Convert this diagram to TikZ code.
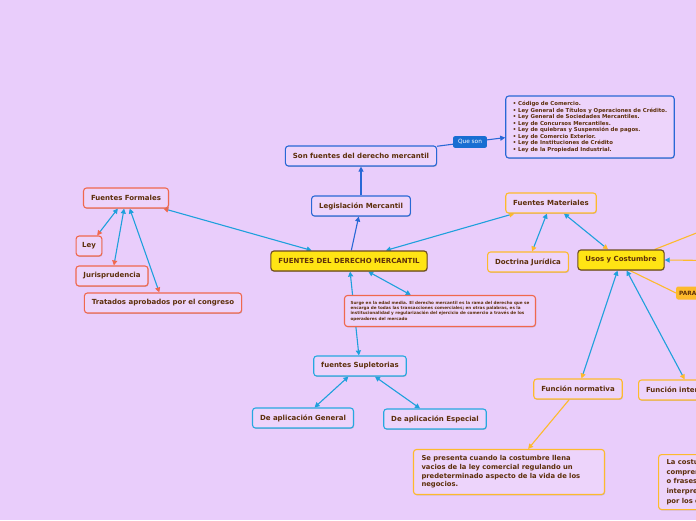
\documentclass[tikz,border=0pt]{standalone}
\usepackage{fontspec}
\setmainfont{DejaVu Sans}
\usetikzlibrary{arrows.meta,shadows,backgrounds}

\definecolor{bgpurple}{RGB}{233,205,251}
\definecolor{boxfill}{RGB}{237,212,251}
\definecolor{textbrown}{RGB}{92,46,10}
\definecolor{darkblue}{RGB}{40,104,214}
\definecolor{redor}{RGB}{240,104,78}
\definecolor{orangeb}{RGB}{253,186,44}
\definecolor{cyanb}{RGB}{38,168,224}
\definecolor{linkblue}{RGB}{30,160,220}
\definecolor{yellowf}{RGB}{255,228,20}
\definecolor{brownb}{RGB}{110,75,30}
\definecolor{tagblue}{RGB}{24,110,210}

\tikzset{
  box/.style={rounded corners=3pt, line width=1.1pt, fill=boxfill, text=textbrown,
    font=\bfseries\fontsize{7}{8.5}\selectfont, inner xsep=7.5pt, minimum height=20pt,
    drop shadow={shadow xshift=.6pt, shadow yshift=-.9pt, fill=black!45, opacity=.45}},
  bluebox/.style={box, draw=darkblue},
  redbox/.style={box, draw=redor},
  orbox/.style={box, draw=orangeb},
  cyanbox/.style={box, draw=cyanb},
  mainbox/.style={box, draw=brownb, fill=yellowf},
  link/.style={draw=linkblue, line width=1.1pt},
  tipblue/.style={arrows={Triangle[length=5pt,width=5pt,color=linkblue]-Triangle[length=5pt,width=5pt,color=linkblue]}},
  tipred/.style={arrows={Triangle[length=5pt,width=5pt,color=linkblue]-Triangle[length=5pt,width=5pt,color=redor]}},
  tipor/.style={arrows={Triangle[length=5pt,width=5pt,color=linkblue]-Triangle[length=5pt,width=5pt,color=orangeb]}}
}

\begin{document}
\begin{tikzpicture}[x=1pt,y=-1pt]
  \useasboundingbox (0,0) rectangle (696,520);
  % --- Centre ---
  \node[mainbox] (fuentes) at (349,261) {FUENTES DEL DERECHO MERCANTIL};
  \node[redbox, font=\bfseries\fontsize{4.15}{5.4}\selectfont, align=left, inner xsep=6pt, minimum height=31pt]
    (origen) at (440,311) {Surge en la edad media. El derecho mercantil es la rama del derecho que se\\
    encarga de todas las transacciones comerciales; en otras palabras, es la\\
    institucionalidad y regularización del ejercicio de comercio a través de los\\
    operadores del mercado};
  % --- Legislacion ---
  \node[bluebox] (legis) at (361,206) {Legislación Mercantil};
  \node[bluebox] (sonf) at (361,156) {Son fuentes del derecho mercantil};
  \node[fill=tagblue, text=white, rounded corners=2pt, font=\fontsize{5.8}{6.5}\selectfont,
    inner xsep=5pt, minimum height=11pt] (queson) at (470,142) {Que son};
  \node[bluebox, font=\bfseries\fontsize{5.4}{6.5}\selectfont, align=left, inner xsep=7pt, minimum height=62pt]
    (leyes) at (590,127) {• Código de Comercio.\\
    • Ley General de Títulos y Operaciones de Crédito.\\
    • Ley General de Sociedades Mercantiles.\\
    • Ley de Concursos Mercantiles.\\
    • Ley de quiebras y Suspensión de pagos.\\
    • Ley de Comercio Exterior.\\
    • Ley de Instituciones de Crédito\\
    • Ley de la Propiedad Industrial.};
  % --- Fuentes formales ---
  \node[redbox] (formales) at (126,198) {Fuentes Formales};
  \node[redbox, inner xsep=6pt] (ley) at (89,246) {Ley};
  \node[redbox] (juris) at (112,276) {Jurisprudencia};
  \node[redbox] (tratados) at (163,303) {Tratados aprobados por el congreso};
  % --- Fuentes materiales ---
  \node[orbox] (materiales) at (551,203) {Fuentes Materiales};
  \node[orbox] (doctrina) at (528,262) {Doctrina Jurídica};
  \node[mainbox] (usos) at (621,260) {Usos y Costumbre};
  \node[orbox] (fnorm) at (578,389) {Función normativa};
  \node[orbox, anchor=west] (finter) at (638,390) {Función interpretativa};
  \node[orbox, font=\bfseries\fontsize{6.8}{8.6}\selectfont, align=left, text width=175pt, inner xsep=8pt, minimum height=45pt]
    (llena) at (509,472) {Se presenta cuando la costumbre llena\\
    vacios de la ley comercial regulando un\\
    predeterminado aspecto de la vida de los\\
    negocios.};
  \node[orbox, anchor=north west, font=\bfseries\fontsize{6.8}{9.6}\selectfont, align=left, inner xsep=8pt, minimum height=55pt]
    (interp) at (658,454) {La costumbre sirve para\\
    comprender el sentido de palabras\\
    o frases técnicas, para\\
    interpretar lo convenido\\
    por los comerciantes.};
  \node[fill=orangeb, text=textbrown, rounded corners=2pt, font=\bfseries\fontsize{5.8}{6.5}\selectfont,
    anchor=west, inner xsep=3pt, minimum height=13pt] (para) at (676,293) {PARA};
  \coordinate (usosA) at (760,208);
  \coordinate (usosB) at (760,261);
  % --- Fuentes supletorias ---
  \node[cyanbox] (suple) at (360,366) {fuentes Supletorias};
  \node[cyanbox] (general) at (303,418) {De aplicación General};
  \node[cyanbox] (especial) at (435,419) {De aplicación Especial};

  \begin{scope}[on background layer]
    \fill[bgpurple] (0,0) rectangle (696,520);
    % links to the blue branch
    \draw[link, draw=darkblue, -{Triangle[length=5pt,width=5pt]}] (fuentes) -- (legis);
    \draw[link, draw=darkblue, -{Triangle[length=5pt,width=5pt]}] (legis) -- (sonf);
    \draw[link, draw=darkblue] (sonf) -- (queson);
    \draw[link, draw=darkblue, -{Triangle[length=5pt,width=5pt]}] (queson) -- (leyes);
    % formal sources
    \draw[link, tipred] (fuentes) -- (formales);
    \draw[link, tipred] (formales) -- (ley);
    \draw[link, tipred] (formales) -- (juris);
    \draw[link, tipred] (formales) -- (tratados);
    % material sources
    \draw[link, tipor] (fuentes) -- (materiales);
    \draw[link, tipor] (materiales) -- (doctrina);
    \draw[link, tipor] (materiales) -- (usos);
    \draw[link, tipor] (usos) -- (fnorm);
    \draw[link, tipor] (usos) -- (finter);
    \draw[link, draw=orangeb, -{Triangle[length=5pt,width=5pt]}] (fnorm) -- (llena);
    \draw[link, draw=orangeb] ([xshift=-10pt]usos.north east) -- (usosA);
    \draw[link, draw=orangeb, -{Triangle[length=5pt,width=5pt,color=linkblue]}] (usosB) -- (usos.east);
    \draw[link, draw=orangeb] ([xshift=9pt]usos.south) -- (para.west);
    % supletory sources
    \draw[link, arrows={Triangle[length=5pt,width=5pt]-Triangle[length=5pt,width=5pt]}] (fuentes) -- (origen);
    \draw[link, tipblue] (fuentes) -- (suple);
    \draw[link, tipblue] (suple) -- (general);
    \draw[link, tipblue] (suple) -- (especial);
  \end{scope}
\end{tikzpicture}
\end{document}
